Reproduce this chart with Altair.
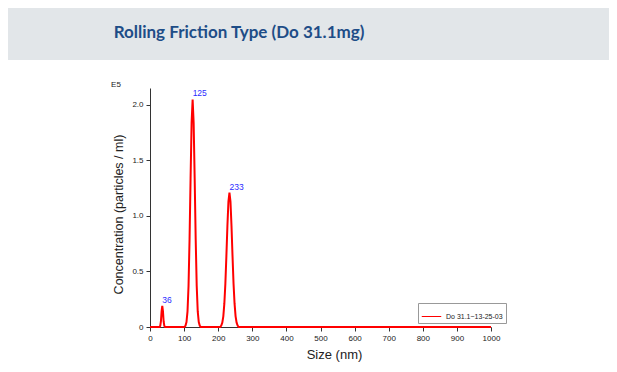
import altair as alt
import pandas as pd

# ---- data ----
size_nm = [0, 20,
           28, 30, 32, 34, 36, 38, 40, 42, 44,
           60, 95,
           101, 104, 107, 110, 113, 116, 119, 122, 125, 128, 131, 134, 137, 140, 143, 146, 149,
           160, 200,
           206, 209, 212, 215, 218, 221, 224, 227, 230, 233, 236, 239, 242, 245, 248, 251, 254, 257,
           260, 280, 400, 600, 800, 1000]
conc_e5 = [0, 0,
           0, 0.01, 0.05, 0.14, 0.19, 0.14, 0.05, 0.01, 0,
           0, 0,
           0, 0.011, 0.044, 0.14, 0.37, 0.79, 1.34, 1.84, 2.05, 1.84, 1.34, 0.79, 0.37, 0.14, 0.044, 0.011, 0,
           0, 0,
           0, 0.013, 0.039, 0.096, 0.21, 0.39, 0.64, 0.91, 1.13, 1.21, 1.13, 0.91, 0.64, 0.39, 0.21, 0.096, 0.039, 0.013,
           0, 0, 0, 0, 0, 0]
series_name = "Do 31.1~13-25-03"

peak_size = [36, 125, 233]
peak_conc = [0.19, 2.05, 1.21]
peak_label = ["36", "125", "233"]

x_ticks = [0, 100, 200, 300, 400, 500, 600, 700, 800, 900, 1000]
y_ticks = [0, 0.5, 1.0, 1.5, 2.0]

title_text = "Rolling Friction Type (Do 31.1mg)"
exp_text = "E5"

df = pd.DataFrame({"size": size_nm, "conc": conc_e5, "series": [series_name] * len(size_nm)})
peaks = pd.DataFrame({"size": peak_size, "conc": peak_conc, "label": peak_label})
one = pd.DataFrame({"a": [0]})

W, H = 341, 239
xscale = alt.Scale(domain=[0, 1000], nice=False)
yscale = alt.Scale(domain=[0, 2.153], nice=False)

x_axis = alt.Axis(values=x_ticks, format="d", labelOverlap=False, labelFlush=False,
                  title="Size (nm)", grid=False, tickSize=4,
                  labelFont="Liberation Sans", labelFontSize=8, labelColor="#222222",
                  labelPadding=3, domainColor="#333333", tickColor="#333333",
                  titleFont="Liberation Sans", titleFontSize=13, titleFontWeight="normal",
                  titleColor="#222222", titleX=184, titleY=31, titleAlign="center",
                  titleBaseline="alphabetic")
y_axis = alt.Axis(values=y_ticks, title="Concentration (particles / ml)", grid=False, tickSize=4,
                  labelExpr="datum.value == 0 ? '0' : format(datum.value, '.1f')",
                  labelOverlap=False, labelFlush=False,
                  labelFont="Liberation Sans", labelFontSize=8, labelColor="#222222",
                  labelPadding=3, domainColor="#333333", tickColor="#333333",
                  titleFont="Liberation Sans", titleFontSize=12.5, titleFontWeight="normal",
                  titleColor="#222222", titleX=-32, titleY=126, titleAlign="center",
                  titleBaseline="middle", titleAngle=270)

header = alt.Chart(one).mark_rect(color="#e2e6e9").encode(
    x=alt.value(-150), x2=alt.value(470), y=alt.value(-90), y2=alt.value(-28)
)
title = alt.Chart(one).mark_text(
    font="Lato", fontSize=17, fontWeight="bold", color="#1e4d87", align="center", baseline="alphabetic"
).encode(x=alt.value(89), y=alt.value(-50), text=alt.value(title_text))

exp_lbl = alt.Chart(one).mark_text(
    font="Liberation Sans", fontSize=8, color="#222222", align="center", baseline="middle"
).encode(x=alt.value(-34), y=alt.value(-3), text=alt.value(exp_text))

line = alt.Chart(df).mark_line(strokeWidth=2, clip=False).encode(
    x=alt.X("size:Q", scale=xscale, axis=x_axis),
    y=alt.Y("conc:Q", scale=yscale, axis=y_axis),
    color=alt.Color("series:N", scale=alt.Scale(range=["#ff0000"]),
                    legend=alt.Legend(title=None, orient="none", legendX=268, legendY=215,
                                      symbolType="stroke", symbolSize=380, symbolStrokeWidth=1,
                                      labelFont="Liberation Sans", labelFontSize=7,
                                      labelColor="#222222", strokeColor="#999999", fillColor="white",
                                      padding=3, labelOffset=4)),
)

labels = alt.Chart(peaks).mark_text(
    font="Liberation Sans", fontSize=8.5, color="#2b2bff", align="left", baseline="bottom", dx=0, dy=-1
).encode(x=alt.X("size:Q", scale=xscale, axis=x_axis),
         y=alt.Y("conc:Q", scale=yscale, axis=y_axis), text="label:N")

chart = alt.layer(header, title, exp_lbl, line, labels).properties(
    width=W, height=H,
    autosize=alt.AutoSizeParams(type="none"),
    padding={"left": 142, "top": 80, "right": 118, "bottom": 37},
    background="white",
).configure_view(stroke=None)

chart.save("out.html", embed_options={"renderer": "svg", "actions": False})
